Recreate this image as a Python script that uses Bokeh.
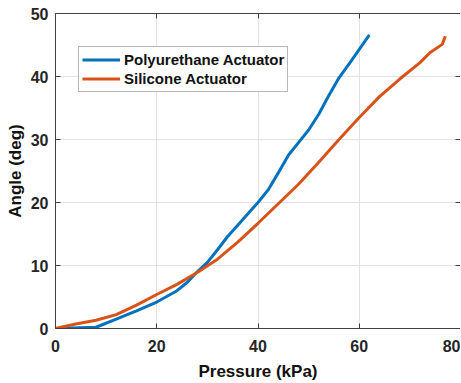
from bokeh.plotting import figure
from bokeh.models import LinearAxis, Range1d, Legend, LegendItem, ColumnDataSource, CustomJSTickFormatter
from bokeh.embed import file_html
from bokeh.resources import INLINE

# Data
pu_pressure = [0, 8, 12, 16, 20, 24, 26, 28, 30, 32, 34, 36, 38, 40, 42, 44, 46, 48, 50, 52, 54, 56, 58, 60, 62]
pu_angle = [0, 0.2, 1.5, 2.8, 4.2, 6.0, 7.3, 9.0, 10.5, 12.5, 14.6, 16.4, 18.2, 20.0, 22.0, 24.7, 27.5, 29.5, 31.5, 34.0, 37.0, 39.8, 42.0, 44.3, 46.6]
si_pressure = [0, 4, 8, 12, 16, 20, 24, 28, 32, 36, 40, 44, 48, 52, 56, 60, 64, 68, 72, 74, 76.4, 77.0]
si_angle = [0, 0.7, 1.3, 2.2, 3.7, 5.4, 7.0, 8.9, 11.0, 13.7, 16.7, 19.8, 22.9, 26.4, 30.0, 33.5, 36.8, 39.6, 42.2, 43.8, 45.1, 46.4]
x_ticks = [0, 20, 40, 60, 80]
y_ticks = [0, 10, 20, 30, 40, 50]
series_names = ["Polyurethane Actuator", "Silicone Actuator"]

FONT = "Liberation Sans"
AX = "#404040"

p = figure(width=460, height=383, output_backend="svg", toolbar_location=None,
           x_range=Range1d(0, 80), y_range=Range1d(0, 50),
           min_border_left=55, min_border_right=0, min_border_top=13, min_border_bottom=55)
p.xaxis.ticker = x_ticks
p.yaxis.ticker = y_ticks

for ax in [p.xaxis[0], p.yaxis[0]]:
    ax.major_tick_in = 5
    ax.major_tick_out = 0
    ax.minor_tick_in = 0
    ax.minor_tick_out = 0
    ax.axis_line_color = AX
    ax.major_tick_line_color = AX
    ax.major_label_text_font = FONT
    ax.major_label_text_font_style = "bold"
    ax.major_label_text_font_size = "16px"
    ax.major_label_text_color = "#262626"
    ax.axis_label_text_font = FONT
    ax.axis_label_text_font_style = "bold"
    ax.axis_label_text_font_size = "17px"
    ax.axis_label_text_color = "#111111"

p.xaxis.axis_label = "Pressure (kPa)"
p.yaxis.axis_label = "Angle (deg)"
p.xaxis.major_label_standoff = 11
p.yaxis.major_label_standoff = 7
p.xaxis.axis_label_standoff = 7
p.yaxis.axis_label_standoff = 3

blank = CustomJSTickFormatter(code="return '';")
# mirrored axes (box on)
top = LinearAxis(ticker=x_ticks, major_tick_in=5, major_tick_out=0, minor_tick_in=0, minor_tick_out=0,
                 formatter=blank, major_label_standoff=0, axis_line_color=AX,
                 major_tick_line_color=AX)
right = LinearAxis(ticker=y_ticks, major_tick_in=5, major_tick_out=0, minor_tick_in=0, minor_tick_out=0,
                   formatter=blank, major_label_standoff=0, axis_line_color=AX,
                   major_tick_line_color=AX)
p.add_layout(top, "above")
p.add_layout(right, "right")

p.grid.grid_line_color = "#e2e2e2"
p.grid.grid_line_width = 1
p.outline_line_color = None

src_pu = ColumnDataSource(dict(x=pu_pressure, y=pu_angle))
src_si = ColumnDataSource(dict(x=si_pressure, y=si_angle))
r1 = p.line("x", "y", source=src_pu, line_color="#0072BD", line_width=3)
r2 = p.line("x", "y", source=src_si, line_color="#D95319", line_width=3)

legend = Legend(items=[LegendItem(label=series_names[0], renderers=[r1]),
                       LegendItem(label=series_names[1], renderers=[r2])],
                location=(23, 236))
legend.label_text_font = FONT
legend.label_text_font_style = "bold"
legend.label_text_font_size = "15px"
legend.label_text_color = "#111111"
legend.glyph_width = 38
legend.glyph_height = 19
legend.label_height = 19
legend.label_standoff = 4
legend.spacing = 0
legend.padding = 3
legend.margin = 0
legend.border_line_color = "#707070"
legend.border_line_width = 1.5
legend.background_fill_color = "white"
legend.background_fill_alpha = 1
p.add_layout(legend, "center")

open("out.html", "w").write(file_html(p, INLINE))
